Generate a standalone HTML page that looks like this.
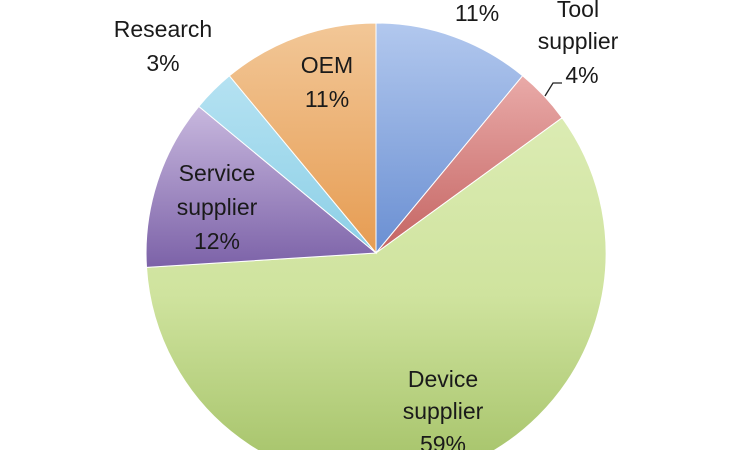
<!DOCTYPE html>
<html><head><style>
html,body{margin:0;background:#fff;width:750px;height:450px;overflow:hidden;}
svg{display:block;}
text{font-family:"Liberation Sans",sans-serif;font-size:23px;fill:#1a1a1a;text-anchor:middle;}
</style></head><body>
<svg width="750" height="450" viewBox="0 0 750 450">
<defs>
<linearGradient id="gb" x1="0" y1="0" x2="0" y2="1"><stop offset="0" stop-color="#b2c8ee"/><stop offset="1" stop-color="#6a8fd2"/></linearGradient>
<linearGradient id="gr" x1="0" y1="0" x2="0" y2="1"><stop offset="0" stop-color="#e9aaa8"/><stop offset="1" stop-color="#c46462"/></linearGradient>
<linearGradient id="gg" gradientUnits="userSpaceOnUse" x1="0" y1="110" x2="0" y2="480"><stop offset="0" stop-color="#dcecb4"/><stop offset="0.5" stop-color="#cfe39e"/><stop offset="1" stop-color="#a3c166"/></linearGradient>
<linearGradient id="gp" x1="0" y1="0" x2="0" y2="1"><stop offset="0" stop-color="#c8b8de"/><stop offset="1" stop-color="#7c62a8"/></linearGradient>
<linearGradient id="gl" x1="0" y1="0" x2="0" y2="1"><stop offset="0" stop-color="#b5e2f2"/><stop offset="1" stop-color="#8ccfe6"/></linearGradient>
<linearGradient id="go" x1="0" y1="0" x2="0" y2="1"><stop offset="0" stop-color="#f2c797"/><stop offset="1" stop-color="#e69c52"/></linearGradient>
</defs>
<g stroke="#fff" stroke-width="1">
<path d="M376,253 L376,23 A230,230 0 0 1 522.6,75.8 Z" fill="url(#gb)"/>
<path d="M376,253 L522.6,75.8 A230,230 0 0 1 562.1,117.8 Z" fill="url(#gr)"/>
<path d="M376,253 L562.1,117.8 A230,230 0 1 1 146.5,267.4 Z" fill="url(#gg)"/>
<path d="M376,253 L146.5,267.4 A230,230 0 0 1 198.8,106.4 Z" fill="url(#gp)"/>
<path d="M376,253 L198.8,106.4 A230,230 0 0 1 229.4,75.8 Z" fill="url(#gl)"/>
<path d="M376,253 L229.4,75.8 A230,230 0 0 1 376,23 Z" fill="url(#go)"/>
</g>
<polyline points="545,96 553,83 562,83" fill="none" stroke="#222" stroke-width="1.3"/>
<text x="477" y="21">11%</text>
<text x="578" y="17">Tool</text>
<text x="578" y="49">supplier</text>
<text x="582" y="83">4%</text>
<text x="163" y="37">Research</text>
<text x="163" y="71">3%</text>
<text x="327" y="73">OEM</text>
<text x="327" y="107">11%</text>
<text x="217" y="181">Service</text>
<text x="217" y="215">supplier</text>
<text x="217" y="249">12%</text>
<text x="443" y="387">Device</text>
<text x="443" y="419">supplier</text>
<text x="443" y="452">59%</text>
</svg>
</body></html>
